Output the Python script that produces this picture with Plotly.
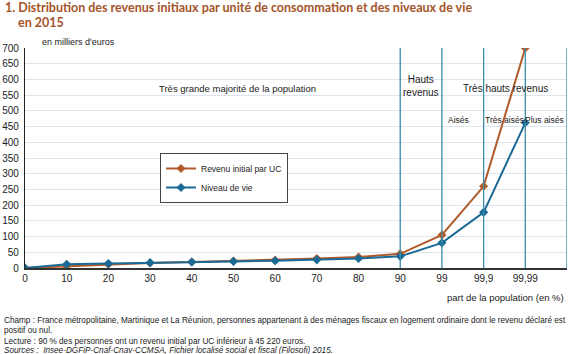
import plotly.graph_objects as go

categories = ["0", "10", "20", "30", "40", "50", "60", "70", "80", "90", "99", "99,9", "99,99"]
revenu_initial = [0, 5, 12, 16, 19, 22, 25, 30, 35, 45.2, 105, 260, 700]
niveau_de_vie = [0, 12, 14, 17, 19, 21, 23, 26, 30, 37, 80, 177, 462]
y_ticks = list(range(0, 701, 50))
separators = [9, 10, 11, 12, 13]

x = list(range(len(categories)))
orange = "#b35a2a"
blue = "#1b6a96"
teal = "#3a8ea8"
font = "Liberation Sans Narrow, Liberation Sans, Arial"

fig = go.Figure()
fig.add_trace(go.Scatter(x=x, y=revenu_initial, mode="lines+markers", name="Revenu initial par UC",
                         line=dict(color=orange, width=2), marker=dict(symbol="diamond", size=7, color=orange)))
fig.add_trace(go.Scatter(x=x, y=niveau_de_vie, mode="lines+markers", name="Niveau de vie",
                         line=dict(color=blue, width=2), marker=dict(symbol="diamond", size=7, color=blue)))

for s in separators:
    fig.add_shape(type="line", x0=s, x1=s, y0=0, y1=1, yref="paper", xref="x",
                  line=dict(color=teal, width=1.3), layer="above")

ann = [
    (237, 88, "Très grande majorité de la population", 9.5),
    (421, 86, "Hauts<br>revenus", 10),
    (505, 88, "Très hauts revenus", 10),
    (458, 120, "Aisés", 8.5),
    (504, 120, "Très aisés", 8.5),
    (544, 120, "Plus aisés", 8.5),
]
for (px, py, t, sz) in ann:
    fig.add_annotation(x=(px - 25) / 542 * 13, xref="x", y=(268 - py) / 220 * 700, yref="y", text=t,
                       showarrow=False, font=dict(family=font, size=sz, color="#222"), xanchor="center", yanchor="middle")

W, H = 569, 354
L, R, T, B = 25, 2, 48, 86
pw, ph = W - L - R, H - T - B
title_font = "Lato, Open Sans"
paper_texts = [
    (3, 7.5, "<b>1. Distribution des revenus initiaux par unité de consommation et des niveaux de vie</b>", 12.5, "#a5542a", title_font, "left"),
    (16, 22, "<b>en 2015</b>", 12.5, "#a5542a", title_font, "left"),
    (40, 42, "en milliers d'euros", 9, "#222", font, "left"),
    (566, 297, "part de la population (en %)", 9.5, "#222", font, "right"),
    (2, 320, "Champ : France métropolitaine, Martinique et La Réunion, personnes appartenant à des ménages fiscaux en logement ordinaire dont le revenu déclaré est", 8.2, "#222", font, "left"),
    (2, 330, "positif ou nul.", 8.2, "#222", font, "left"),
    (2, 341, "Lecture : 90 % des personnes ont un revenu initial par UC inférieur à 45 220 euros.", 8.2, "#222", font, "left"),
    (2, 350, "<i>Sources :  Insee-DGFiP-Cnaf-Cnav-CCMSA, Fichier localisé social et fiscal (Filosofi) 2015.</i>", 8.2, "#222", font, "left"),
]
for (px, py, t, sz, col, fam, anc) in paper_texts:
    fig.add_annotation(x=(px - L) / pw, xref="paper", y=1 - (py - T) / ph, yref="paper", text=t, showarrow=False,
                       xanchor=anc, yanchor="middle", align="left", font=dict(family=fam, size=sz, color=col))

fig.update_layout(
    width=W, height=H, margin=dict(l=L, r=R, t=T, b=B),
    paper_bgcolor="white", plot_bgcolor="white",
    font=dict(family=font, size=9, color="#222"),
    showlegend=True,
    legend=dict(x=(160 - L) / pw, y=1 - (153 - T) / ph, xanchor="left", yanchor="top",
                bgcolor="white", bordercolor="#444", borderwidth=1,
                font=dict(family=font, size=8.5, color="#222"), itemwidth=30, tracegroupgap=2),
    xaxis=dict(range=[0, 13], tickmode="array", tickvals=x, ticktext=categories, showgrid=False,
               zeroline=False, showline=True, linecolor="#333", linewidth=1.5, ticks="",
               tickfont=dict(size=10, color="#222")),
    yaxis=dict(range=[0, 700], tickvals=y_ticks, showgrid=True, gridcolor="#dde6ee", gridwidth=1,
               zeroline=False, showline=True, linecolor="#222", linewidth=1.2, ticks="",
               tickfont=dict(size=10, color="#222"), ticklabelstandoff=3),
)

fig.write_html("out.html")
